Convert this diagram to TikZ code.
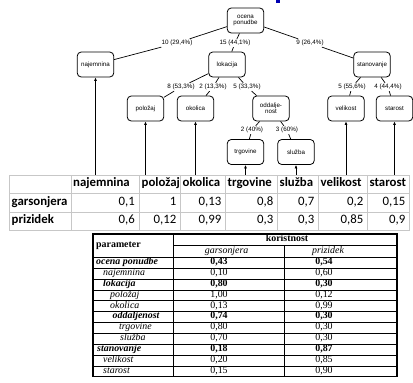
\documentclass[tikz,border=0pt]{standalone}
\usepackage{fontspec}
\setmainfont{Liberation Serif}
\newfontfamily\arialf{Liberation Sans}
\newfontfamily\calib{Carlito}
\usetikzlibrary{arrows.meta}
\newcommand\tsz{\fontsize{9.9}{11}\selectfont}
\newcommand\csz{\fontsize{12.8}{14}\selectfont}
\newcommand\rowy[1]{256.9+10.855*(#1+0.5)}
\newcommand\tbrowB[5]{%
  \node[tcell, anchor=mid west, font=\tsz\bfseries\itshape] (r#1a) at (#2,{\rowy{#1}}) {#3};
  \node[tcell, anchor=mid, font=\tsz\bfseries] (r#1b) at (219,{\rowy{#1}}) {#4};
  \node[tcell, anchor=mid, font=\tsz\bfseries] (r#1c) at (324,{\rowy{#1}}) {#5};}
\newcommand\tbrowN[5]{%
  \node[tcell, anchor=mid west, font=\tsz\itshape] (r#1a) at (#2,{\rowy{#1}}) {#3};
  \node[tcell, anchor=mid, font=\tsz] (r#1b) at (219,{\rowy{#1}}) {#4};
  \node[tcell, anchor=mid, font=\tsz] (r#1c) at (324,{\rowy{#1}}) {#5};}
\begin{document}
\begin{tikzpicture}[x=1pt,y=-1pt,
  tbox/.style={draw, rounded corners=4pt, line width=0.8pt, minimum width=36.5pt, minimum height=25pt, align=center, inner sep=1pt, font=\arialf\fontsize{6.2}{7}\selectfont},
  elab/.style={inner sep=1pt, font=\arialf\fontsize{6.3}{7}\selectfont},
  tedge/.style={line width=0.7pt},
  uparrow/.style={line width=0.8pt, -{Latex[length=3.5pt,width=3pt]}},
  gridl/.style={draw=black!22, line width=0.6pt},
  xcell/.style={inner sep=0pt, font=\calib\csz},
  tcell/.style={inner sep=0pt},
  tline/.style={line width=0.5pt},
  tthick/.style={line width=1.1pt}]
\useasboundingbox (0,0) rectangle (413,383);
\fill[blue!70!black] (276,0) rectangle (280,3.3);
% tree nodes
\node[tbox] (ocena) at (245.5,20.5) {ocena\\[-1pt]ponudbe};
\node[tbox] (najem) at (95.5,64.5) {najemnina};
\node[tbox] (lok) at (227,64.5) {lokacija};
\node[tbox] (stan) at (372,64.5) {stanovanje};
\node[tbox] (polo) at (145.5,108.5) {položaj};
\node[tbox] (okol) at (195.5,108.5) {okolica};
\node[tbox] (odda) at (271,108.5) {oddalje-\\[-1pt]nost};
\node[tbox] (veli) at (346,108.5) {velikost};
\node[tbox] (star) at (394.5,108.5) {starost};
\node[tbox] (trgo) at (245.5,152) {trgovine};
\node[tbox] (sluz) at (296,152) {služba};
% edge labels
\node[elab] (l1) at (177,43) {10 (29,4\%)};
\node[elab] (l2) at (235,43) {15 (44,1\%)};
\node[elab] (l3) at (310,43) {9 (26,4\%)};
\node[elab] (l4) at (181,87) {8 (53,3\%)};
\node[elab] (l5) at (213,87) {2 (13,3\%)};
\node[elab] (l6) at (247,87) {5 (33,3\%)};
\node[elab] (l7) at (252,130) {2 (40\%)};
\node[elab] (l8) at (287,130) {3 (60\%)};
\node[elab] (l9) at (352,87) {5 (55,6\%)};
\node[elab] (l10) at (388,87) {4 (44,4\%)};
\draw[tedge] (ocena) -- (l1) -- (najem);
\draw[tedge] (ocena) -- (l2) -- (lok);
\draw[tedge] (ocena) -- (l3) -- (stan);
\draw[tedge] (lok) -- (l4) -- (polo);
\draw[tedge] (lok) -- (l5) -- (okol);
\draw[tedge] (lok) -- (l6) -- (odda);
\draw[tedge] (odda) -- (l7) -- (trgo);
\draw[tedge] (odda) -- (l8) -- (sluz);
\draw[tedge] (stan) -- (l9) -- (veli);
\draw[tedge] (stan) -- (l10) -- (star);
% arrows from the table
\coordinate (b1) at (95.5,175);
\coordinate (b2) at (145.5,175);
\coordinate (b3) at (195.5,175);
\coordinate (b4) at (245.5,175);
\coordinate (b5) at (296,175);
\coordinate (b6) at (346,175);
\coordinate (b7) at (394.5,175);
\draw[uparrow] (b1) -- (najem);
\draw[uparrow] (b2) -- (polo);
\draw[uparrow] (b3) -- (okol);
\draw[uparrow] (b4) -- (trgo);
\draw[uparrow] (b5) -- (sluz);
\draw[uparrow] (b6) -- (veli);
\draw[uparrow] (b7) -- (star);
% table 1 (spreadsheet)
\draw[gridl] (9,175) rectangle (409,230.5);
\foreach \yy in {193.5,212} \draw[gridl] (9,\yy) -- (409,\yy);
\foreach \xx in {71,139,180,225,277,318,367} \draw[gridl] (\xx,175) -- (\xx,230.5);
\node[xcell, anchor=mid west, font=\calib\csz\bfseries] (h1) at (73,184.25) {najemnina};
\node[xcell, anchor=mid west, font=\calib\csz\bfseries] (h2) at (141.5,184.25) {položaj};
\node[xcell, anchor=mid west, font=\calib\csz\bfseries] (h3) at (182.5,184.25) {okolica};
\node[xcell, anchor=mid west, font=\calib\csz\bfseries] (h4) at (227.5,184.25) {trgovine};
\node[xcell, anchor=mid west, font=\calib\csz\bfseries] (h5) at (279.5,184.25) {služba};
\node[xcell, anchor=mid west, font=\calib\csz\bfseries] (h6) at (320.5,184.25) {velikost};
\node[xcell, anchor=mid west, font=\calib\csz\bfseries] (h7) at (369.5,184.25) {starost};
\node[xcell, anchor=mid west, font=\calib\csz\bfseries] (rg) at (11.5,202.75) {garsonjera};
\node[xcell, anchor=mid west, font=\calib\csz\bfseries] (rp) at (11.5,221.25) {prizidek};
\node[xcell, anchor=mid east] (g1) at (135,202.75) {0,1};
\node[xcell, anchor=mid east] (g2) at (176.5,202.75) {1};
\node[xcell, anchor=mid east] (g3) at (221.5,202.75) {0,13};
\node[xcell, anchor=mid east] (g4) at (273.5,202.75) {0,8};
\node[xcell, anchor=mid east] (g5) at (314.5,202.75) {0,7};
\node[xcell, anchor=mid east] (g6) at (363.5,202.75) {0,2};
\node[xcell, anchor=mid east] (g7) at (405.5,202.75) {0,15};
\node[xcell, anchor=mid east] (p1) at (135,221.25) {0,6};
\node[xcell, anchor=mid east] (p2) at (176.5,221.25) {0,12};
\node[xcell, anchor=mid east] (p3) at (221.5,221.25) {0,99};
\node[xcell, anchor=mid east] (p4) at (273.5,221.25) {0,3};
\node[xcell, anchor=mid east] (p5) at (314.5,221.25) {0,3};
\node[xcell, anchor=mid east] (p6) at (363.5,221.25) {0,85};
\node[xcell, anchor=mid east] (p7) at (405.5,221.25) {0,9};
% table 2
\foreach \k in {1,...,10} \draw[tline] (93,{257.3+10.855*\k}) -- (397,{257.3+10.855*\k});
\draw[tline] (173,245.7) -- (397,245.7);
\draw[tthick] (93,257.3) -- (397,257.3);
\draw[tline] (173,234) -- (173,376.7);
\draw[tline] (284,245.7) -- (284,376.7);
\draw[tthick] (93,234) rectangle (397,376.7);
\node[tcell, anchor=mid west, font=\tsz\bfseries] (hp) at (96,245.3) {parameter};
\node[tcell, anchor=mid, font=\tsz\bfseries] (hk) at (287,239.5) {koristnost};
\node[tcell, anchor=mid, font=\tsz\itshape] (hg) at (226.7,251.3) {garsonjera};
\node[tcell, anchor=mid, font=\tsz\itshape] (hz) at (328,251.3) {prizidek};
\tbrowB{0}{96}{ocena ponudbe}{0,43}{0,54}
\tbrowN{1}{103}{najemnina}{0,10}{0,60}
\tbrowB{2}{103}{lokacija}{0,80}{0,30}
\tbrowN{3}{110}{položaj}{1,00}{0,12}
\tbrowN{4}{110}{okolica}{0,13}{0,99}
\tbrowB{5}{112.5}{oddaljenost}{0,74}{0,30}
\tbrowN{6}{119}{trgovine}{0,80}{0,30}
\tbrowN{7}{120}{služba}{0,70}{0,30}
\tbrowB{8}{97}{stanovanje}{0,18}{0,87}
\tbrowN{9}{103}{velikost}{0,20}{0,85}
\tbrowN{10}{103}{starost}{0,15}{0,90}
\end{tikzpicture}
\end{document}
